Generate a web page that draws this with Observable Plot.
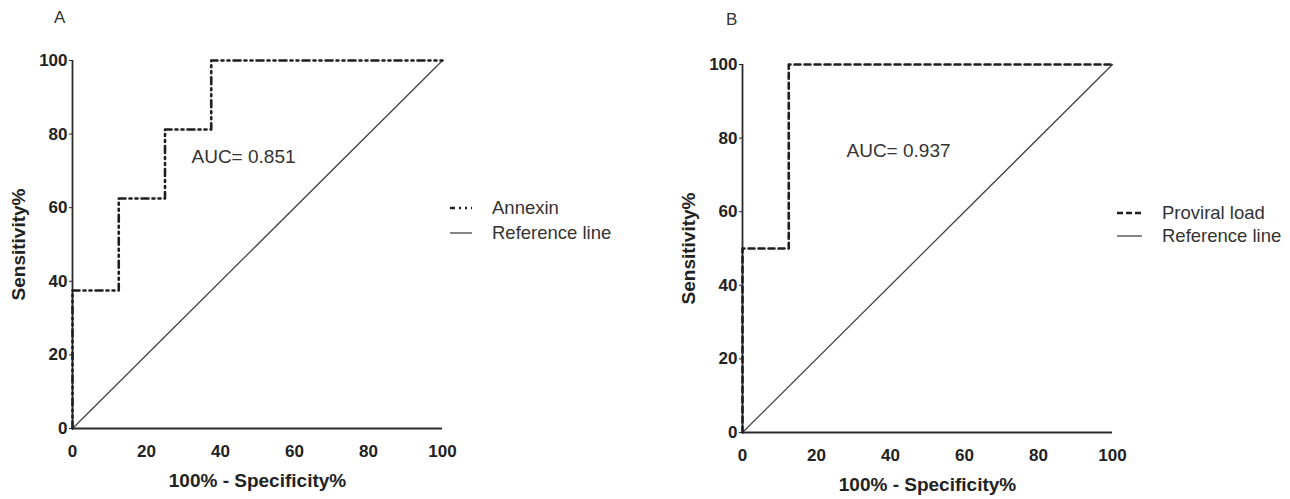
<!DOCTYPE html>
<html>
<head>
<meta charset="utf-8">
<script src="https://cdn.jsdelivr.net/npm/d3@7"></script>
<script src="https://cdn.jsdelivr.net/npm/@observablehq/plot@0.6"></script>
<style>
  html, body { margin: 0; padding: 0; background: #fff; }
  body { width: 1290px; height: 499px; position: relative; overflow: hidden;
         font-family: "Liberation Sans", Arial, sans-serif; color: #222; }
  .abs { position: absolute; }
  .panel-label { font-size: 17px; color: #333; }
  .legend-row { position: absolute; display: flex; align-items: center; font-size: 18.5px; color: #333; white-space: nowrap; }
  .legend-row svg { margin-right: 20px; }
</style>
</head>
<body>
<div id="labelA" class="abs panel-label" style="left:54px; top:8px;">A</div>
<div id="labelB" class="abs panel-label" style="left:726px; top:10px;">B</div>
<div id="plotA" class="abs" style="left:0px; top:0px;"></div>
<div id="plotB" class="abs" style="left:670px; top:0px;"></div>
<div id="legendA"></div>
<div id="legendB"></div>
<script>
// ---- Data ----
const ticks = [0, 20, 40, 60, 80, 100];

// Panel A: Annexin ROC (step points, 100% - specificity vs sensitivity)
const annexinFpr = [0, 0, 12.5, 25, 37.5, 100];
const annexinTpr = [0, 37.5, 62.5, 81.25, 100, 100];
const aucA = "AUC= 0.851";

// Panel B: Proviral load ROC
const proviralFpr = [0, 0, 12.5, 100];
const proviralTpr = [0, 50, 100, 100];
const aucB = "AUC= 0.937";

// Reference (chance) line
const refX = [0, 100];
const refY = [0, 100];

const seriesNames = { A: "Annexin", B: "Proviral load", ref: "Reference line" };

// ---- Build ----
const toRows = (xs, ys) => xs.map((x, i) => ({ x, y: ys[i] }));
const annexin = toRows(annexinFpr, annexinTpr);
const proviral = toRows(proviralFpr, proviralTpr);
const reference = toRows(refX, refY);

const font = "'Liberation Sans', Arial, sans-serif";

function rocPlot({ roc, dash, auc, marginTop, marginBottom, aucDx, aucDy }) {
  return Plot.plot({
    width: 460,
    height: 499,
    marginLeft: 72,
    marginRight: 18,
    marginTop,
    marginBottom,
    style: { fontFamily: font, fontSize: "17px", fontWeight: "bold", color: "#222", background: "transparent" },
    x: { domain: [0, 100] },
    y: { domain: [0, 100] },
    marks: [
      Plot.axisY({ ticks, tickSize: 3, tickPadding: 2, fontSize: 17, fontWeight: "bold", label: null }),
      Plot.axisY({ ticks: [], label: "Sensitivity%", labelAnchor: "center", labelArrow: "none", labelOffset: 61, fontSize: 19, fontWeight: "bold" }),
      Plot.axisX({ ticks, tickSize: 0, tickPadding: 16, fontSize: 17, fontWeight: "bold", label: null }),
      Plot.axisX({ ticks: [], label: "100% - Specificity%", labelAnchor: "center", labelArrow: "none", labelOffset: 58, fontSize: 19, fontWeight: "bold" }),
      Plot.ruleY([0], { stroke: "#2a2a2a", strokeWidth: 1.8 }),
      Plot.ruleX([0], { stroke: "#2a2a2a", strokeWidth: 1.8 }),
      Plot.line(reference, { x: "x", y: "y", stroke: "#444", strokeWidth: 1.3 }),
      Plot.line(roc, { x: "x", y: "y", curve: "step-after", stroke: "#1e1e1e", strokeWidth: 2.6, strokeDasharray: dash }),
      Plot.text([auc], { text: d => d, frameAnchor: "top-left", dx: aucDx, dy: aucDy, textAnchor: "start", lineAnchor: "middle", fontWeight: "normal", fontSize: 19, fill: "#333" })
    ]
  });
}

document.getElementById("plotA").append(rocPlot({
  roc: annexin, dash: "7,4,2,4,2,4", auc: aucA, marginTop: 60, marginBottom: 71, aucDx: 119, aucDy: 96
}));
document.getElementById("plotB").append(rocPlot({
  roc: proviral, dash: "6,4", auc: aucB, marginTop: 64, marginBottom: 67, aucDx: 104, aucDy: 86
}));

function legend(el, x, y0, gap, items) {
  items.forEach((it, i) => {
    const row = document.createElement("div");
    row.className = "legend-row";
    row.style.left = x + "px";
    row.style.top = (y0 + i * gap - 11) + "px";
    row.style.height = "22px";
    row.innerHTML = `<svg width="${it.w}" height="6"><line x1="0" y1="3" x2="${it.w}" y2="3" stroke="${it.stroke}" stroke-width="${it.sw}" ${it.dash ? `stroke-dasharray="${it.dash}"` : ""}/></svg><span>${it.name}</span>`;
    el.append(row);
  });
}
legend(document.getElementById("legendA"), 450, 208, 25, [
  { name: seriesNames.A, w: 22, stroke: "#1e1e1e", sw: 2.6, dash: "5,4,2,4,2,4" },
  { name: seriesNames.ref, w: 22, stroke: "#444", sw: 1.3 }
]);
legend(document.getElementById("legendB"), 1117, 213, 23, [
  { name: seriesNames.B, w: 25, stroke: "#1e1e1e", sw: 2.6, dash: "6,3" },
  { name: seriesNames.ref, w: 25, stroke: "#444", sw: 1.3 }
]);
</script>
</body>
</html>
